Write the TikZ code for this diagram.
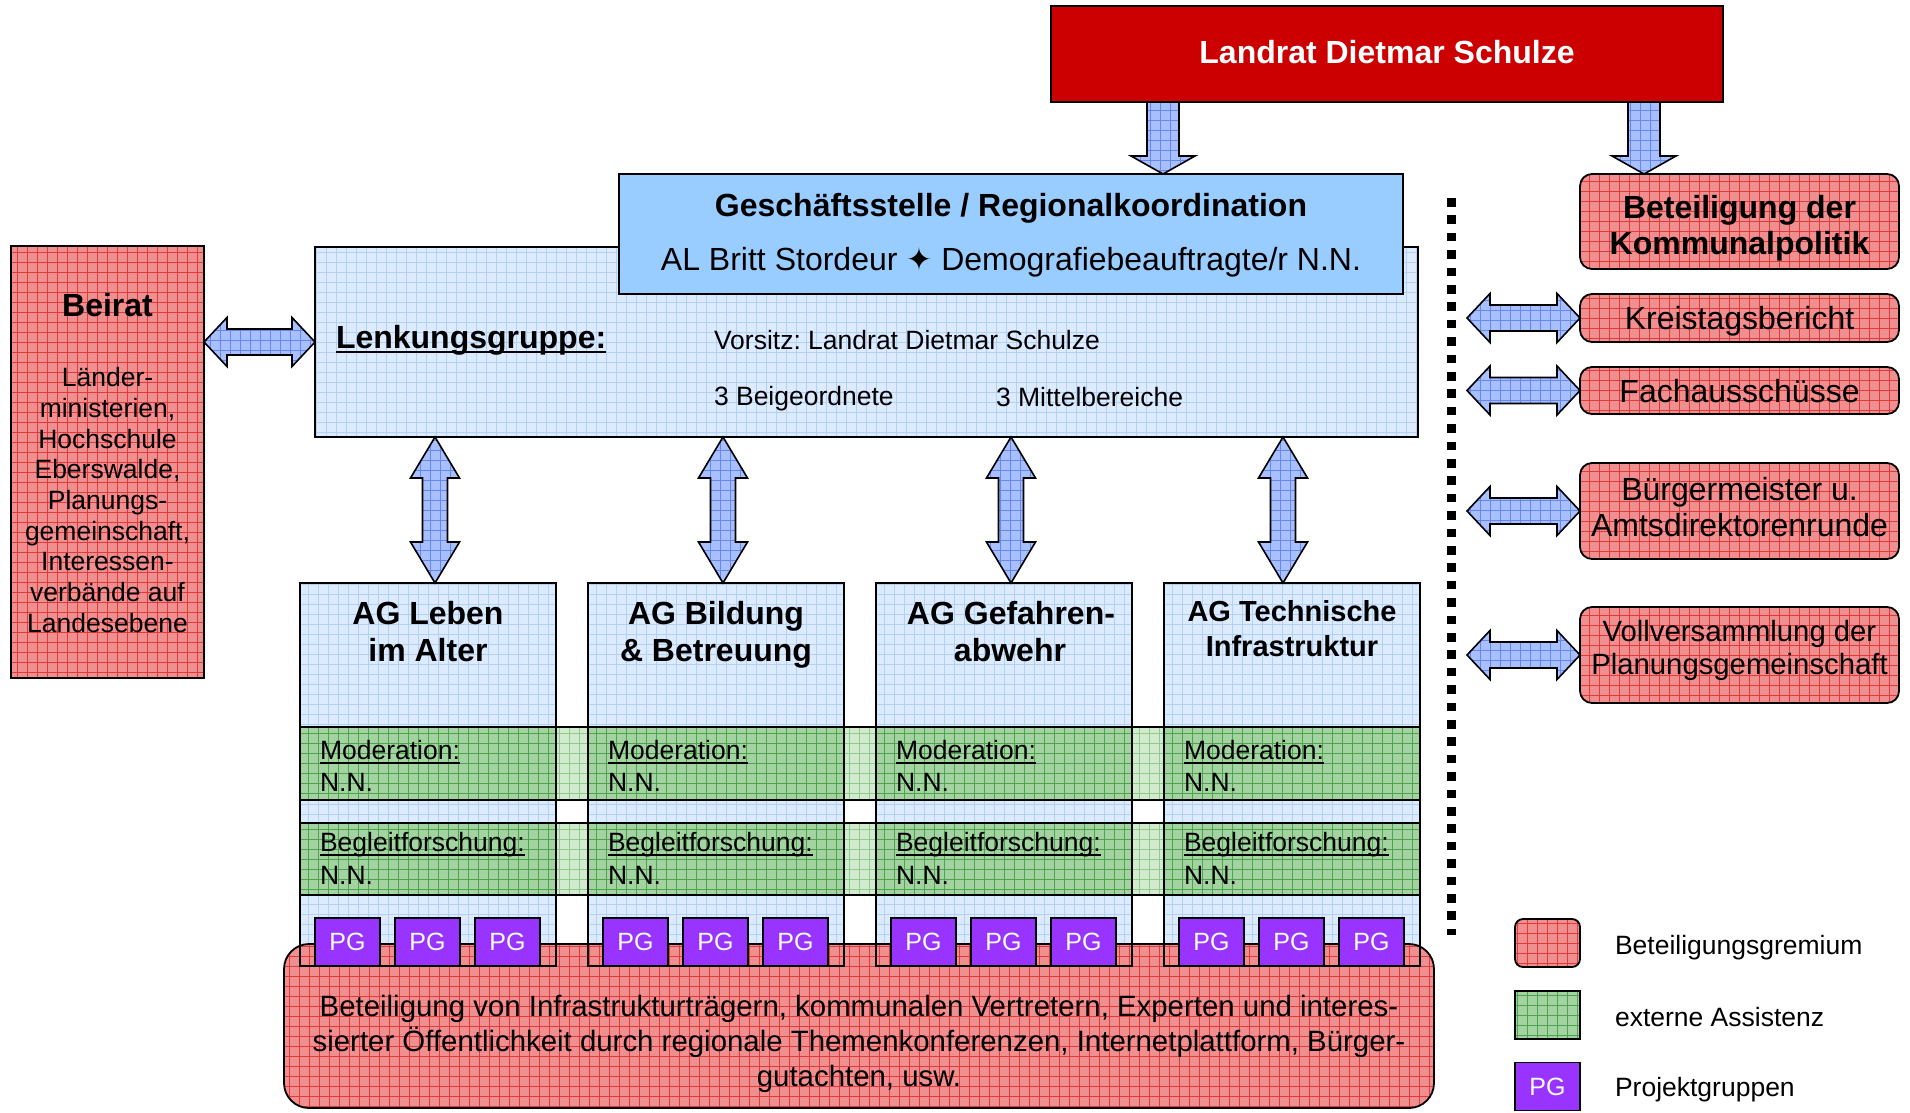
\documentclass[tikz,border=0pt]{standalone}
\usepackage{fontspec}
\setmainfont{Liberation Sans}
\newfontfamily\djv{DejaVu Sans}
\usetikzlibrary{calc}
\frenchspacing

\definecolor{lrRed}{HTML}{CC0000}
\definecolor{gsBlue}{HTML}{99CCFF}
\definecolor{bluBg}{HTML}{DCEBFF}
\definecolor{bluLn}{HTML}{B3D1F2}
\definecolor{redBg}{HTML}{EF8F8F}
\definecolor{redLn}{HTML}{E03A3A}
\definecolor{grnBg}{HTML}{A3D3A0}
\definecolor{grnLn}{HTML}{4FA34F}
\definecolor{grnLt}{HTML}{D2EBCF}
\definecolor{grnLtLn}{HTML}{8FCB8C}
\definecolor{arrBg}{HTML}{A8C0FF}
\definecolor{arrLn}{HTML}{6688EE}
\definecolor{pgPur}{HTML}{9933FF}

\newcommand\fs[2]{\fontsize{#1}{#2}\selectfont}
\newcommand\myul[1]{\setbox0\hbox{#1}\rlap{\vrule height -2.6pt depth 4.4pt width \wd0}\box0}

\tikzset{
  bx/.style={draw=black, line width=1.8pt, inner sep=0pt, outer sep=0pt},
  gridpat/.style 2 args={fill=#1, path picture={\draw[#2, line width=0.8pt]
      (path picture bounding box.south west) grid[step=10pt] (path picture bounding box.north east);}},
  redpat/.style={bx, gridpat={redBg}{redLn}},
  blupat/.style={bx, gridpat={bluBg}{bluLn}},
  grnpat/.style={bx, gridpat={grnBg}{grnLn}},
  grnlt/.style={bx, gridpat={grnLt}{grnLtLn}},
  arr/.style={draw=black, line width=1.6pt, line join=miter, gridpat={arrBg}{arrLn}},
  pgbox/.style={bx, fill=pgPur, text=white, font={\fs{25}{28}}, minimum width=65pt, minimum height=48pt},
  txt/.style={inner sep=0pt, outer sep=0pt, align=center},
  reg/.style={font={\fs{26.5}{30.7}}},
  agt/.style={inner sep=0pt, outer sep=0pt, anchor=base, font={\fs{32}{37}\bfseries}},
}

% horizontal double fat arrow: #1 left point (y taken from it), #2 right point
\newcommand\fatH[2]{%
  \filldraw[arr] let \p1=#1, \p2=#2 in
   (\x1,\y1) -- (\x1+23pt,\y1+24.5pt) -- (\x1+23pt,\y1+13pt) -- (\x2-23pt,\y1+13pt)
   -- (\x2-23pt,\y1+24.5pt) -- (\x2,\y1) -- (\x2-23pt,\y1-24.5pt) -- (\x2-23pt,\y1-13pt)
   -- (\x1+23pt,\y1-13pt) -- (\x1+23pt,\y1-24.5pt) -- cycle;}
% vertical double fat arrow: #1 top point (x taken from it), #2 bottom point
\newcommand\fatV[2]{%
  \filldraw[arr] let \p1=#1, \p2=#2 in
   (\x1,\y1) -- (\x1+24.5pt,\y1-41pt) -- (\x1+12.5pt,\y1-41pt) -- (\x1+12.5pt,\y2+41pt)
   -- (\x1+24.5pt,\y2+41pt) -- (\x1,\y2) -- (\x1-24.5pt,\y2+41pt) -- (\x1-12.5pt,\y2+41pt)
   -- (\x1-12.5pt,\y1-41pt) -- (\x1-24.5pt,\y1-41pt) -- cycle;}
% downward fat arrow
\newcommand\fatD[2]{%
  \filldraw[arr] let \p1=#1, \p2=#2 in
   (\x1-16pt,\y1) -- (\x1+16pt,\y1) -- (\x1+16pt,\y2+18pt) -- (\x1+32pt,\y2+18pt)
   -- (\x1,\y2) -- (\x1-32pt,\y2+18pt) -- (\x1-16pt,\y2+18pt) -- cycle;}

\begin{document}
\begin{tikzpicture}[x=1pt,y=-1pt]
\useasboundingbox[fill=white] (0,0) rectangle (1910,1112);

% ---------- top ----------
\node[bx, fill=lrRed, minimum width=672pt, minimum height=96pt] (lr) at (1387,54) {};
\node[txt, text=white, font={\fs{32}{36}\bfseries}] (lrt) at (1387,52) {Landrat Dietmar Schulze};

% Lenkungsgruppe
\node[blupat, minimum width=1103pt, minimum height=190pt] (lenk) at (866.5,342) {};
\node[txt, anchor=west, font={\fs{32}{36}\bfseries}] (lenkt) at (336,340) {\myul{Lenkungsgruppe:}};
\node[txt, anchor=west, reg] (vors) at (714,340) {Vorsitz: Landrat Dietmar Schulze};
\node[txt, anchor=west, reg] (beig) at (714,399) {3 Beigeordnete};
\node[txt, anchor=west, reg] (mitt) at (996,397) {3 Mittelbereiche};

% Geschaeftsstelle
\node[bx, fill=gsBlue, minimum width=784pt, minimum height=120pt] (gs) at (1011,234) {};
\node[txt, font={\fs{32}{36}\bfseries}] (gst1) at (1011,208) {Geschäftsstelle / Regionalkoordination};
\node[txt, font={\fs{32}{36}}] (gst2) at (1011,262) {AL Britt Stordeur {\djv\fs{31}{32}✦} Demografiebeauftragte/r N.N.};

% Beirat
\node[redpat, minimum width=193pt, minimum height=432pt] (beirat) at (107.5,462) {};
\node[txt, font={\fs{32}{36}\bfseries}] (beirt) at (107.5,305) {Beirat};
\node[txt, reg] (beirx) at (107.5,500) {Länder-\\ministerien,\\Hochschule\\Eberswalde,\\Planungs-\\gemeinschaft,\\Interessen-\\verbände auf\\Landesebene};

% right side boxes
\node[redpat, rounded corners=12pt, minimum width=319pt, minimum height=95pt] (bk) at (1739.5,221.5) {};
\node[txt, font={\fs{32}{36}\bfseries}] (bkt) at (1739.5,228) {Beteiligung der\\Kommunalpolitik};
\node[redpat, rounded corners=12pt, minimum width=319pt, minimum height=48pt] (kb) at (1739.5,318) {};
\node[txt, font={\fs{32}{36}}] (kbt) at (1739.5,321) {Kreistagsbericht};
\node[redpat, rounded corners=12pt, minimum width=319pt, minimum height=47pt] (fa) at (1739.5,390.5) {};
\node[txt, font={\fs{32}{36}}] (fat) at (1739.5,391) {Fachausschüsse};
\node[redpat, rounded corners=12pt, minimum width=319pt, minimum height=96pt] (bm) at (1739.5,511) {};
\node[txt, font={\fs{32}{36.5}}] (bmt) at (1739.5,507) {Bürgermeister u.\\Amtsdirektorenrunde};
\node[redpat, rounded corners=12pt, minimum width=319pt, minimum height=96pt] (vv) at (1739.5,655) {};
\node[txt, font={\fs{29.3}{33}}] (vvt) at (1739.5,650) {Vollversammlung der\\Planungsgemeinschaft};

% dotted separator
\coordinate (dtop) at (1451.5,198);
\coordinate (dbot) at (1451.5,935);
\draw[line width=9pt, dash pattern=on 8.5pt off 8.9pt] (dtop) -- (dbot);
\coordinate (dl) at (1467,0);

% ---------- columns ----------
\foreach \i/\x in {1/300,2/588,3/876,4/1164}{
  \node[blupat, anchor=north west, minimum width=256pt, minimum height=383pt] (c\i) at (\x,583) {};
}
\node[grnlt, anchor=north west, minimum width=1119pt, minimum height=73pt] (band1) at (300,727) {};
\node[grnlt, anchor=north west, minimum width=1119pt, minimum height=72pt] (band2) at (300,823) {};
\foreach \i/\x in {1/300,2/588,3/876,4/1164}{
  \node[grnpat, anchor=north west, minimum width=256pt, minimum height=73pt] (m\i) at (\x,727) {};
  \node[grnpat, anchor=north west, minimum width=256pt, minimum height=72pt] (b\i) at (\x,823) {};
  \node[txt, anchor=west, reg] (mt\i) at (\x+20,752) {\myul{Moderation:}};
  \node[txt, anchor=west, reg] (mn\i) at (\x+20,782) {N.N.};
  \node[txt, anchor=west, reg] (bt\i) at (\x+20,845) {\myul{Begleitforschung:}};
  \node[txt, anchor=west, reg] (bn\i) at (\x+20,875) {N.N.};
}
\node[agt] (t1a) at (428,624.5) {AG Leben};
\node[agt] (t1b) at (428,661.5) {im Alter};
\node[agt] (t2a) at (716,624.5) {AG Bildung};
\node[agt] (t2b) at (716,661.5) {\& Betreuung};
\node[agt] (t3a) at (1011,624.5) {AG Gefahren-};
\node[agt] (t3b) at (1010,661.5) {abwehr};
\node[agt, font={\fs{29}{35}\bfseries}] (t4a) at (1292,621.5) {AG Technische};
\node[agt, font={\fs{29}{35}\bfseries}] (t4b) at (1292,656.5) {Infrastruktur};

% bottom participation box
\node[redpat, rounded corners=25pt, minimum width=1150pt, minimum height=164pt] (bot) at (859,1026) {};
\node[txt, font={\fs{29.4}{35}}] (bott) at (859,1044) {Beteiligung von Infrastrukturträgern, kommunalen Vertretern, Experten und interes-\\sierter Öffentlichkeit durch regionale Themenkonferenzen, Internetplattform, Bürger-\\gutachten, usw.};

\foreach \i/\x in {1/300,2/588,3/876,4/1164}{
  \draw[line width=1.8pt] (c\i.north west) rectangle (c\i.south east);
  \node[pgbox, anchor=north west] (pa\i) at (\x+15,918) {PG};
  \node[pgbox, anchor=north west] (pb\i) at (\x+95,918) {PG};
  \node[pgbox, anchor=north west] (pc\i) at (\x+175,918) {PG};
}

% ---------- arrows ----------
\fatD{($(lr.south west)+(112,0)$)}{(gs.north)}
\fatD{($(lr.south west)+(593,0)$)}{(bk.north)}
\fatH{(beirat.east |- lenk.west)}{(lenk.west)}
\fatH{(dl |- kb.west)}{(kb.west)}
\fatH{(dl |- fa.west)}{(fa.west)}
\fatH{(dl |- bm.west)}{(bm.west)}
\fatH{(dl |- vv.west)}{(vv.west)}
\fatV{($(lenk.south west)+(120,0)$)}{(c1.north)}
\fatV{($(lenk.south west)+(408,0)$)}{(c2.north)}
\fatV{($(lenk.south west)+(696,0)$)}{(c3.north)}
\fatV{($(lenk.south west)+(968,0)$)}{(c4.north)}

% ---------- legend ----------
\node[redpat, rounded corners=8pt, minimum width=65pt, minimum height=48pt] (lg1) at (1547.5,943) {};
\node[grnpat, line width=1.2pt, minimum width=65pt, minimum height=48pt] (lg2) at (1547.5,1015) {};
\node[pgbox] (lg3) at (1547.5,1086.5) {PG};
\node[txt, anchor=west, reg] (lgt1) at (1615,948) {Beteiligungsgremium};
\node[txt, anchor=west, reg] (lgt2) at (1615,1017) {externe Assistenz};
\node[txt, anchor=west, reg] (lgt3) at (1615,1090) {Projektgruppen};
\end{tikzpicture}
\end{document}
